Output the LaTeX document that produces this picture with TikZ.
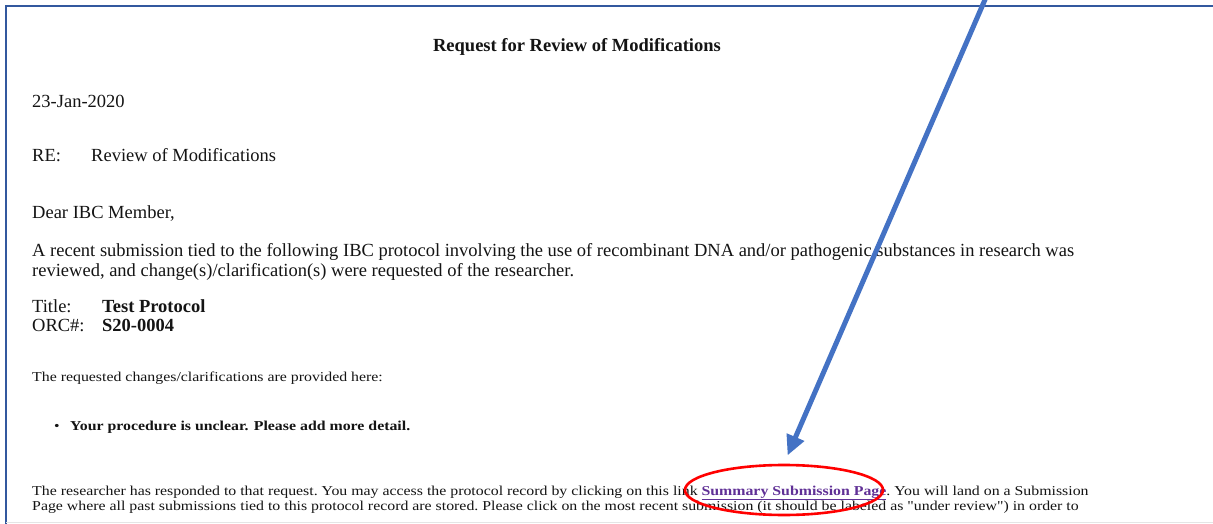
\documentclass[tikz,border=0pt]{standalone}
\usepackage{fontspec}
\setmainfont{Liberation Serif}
\newfontfamily\smallserif[FakeStretch=1.165]{Liberation Serif}
\usetikzlibrary{arrows.meta,shapes.geometric}
\definecolor{framebl}{RGB}{50,88,158}
\definecolor{arrowbl}{RGB}{68,114,196}
\definecolor{linkpu}{RGB}{96,48,150}
\definecolor{ink}{RGB}{20,20,20}
\tikzset{
  txt/.style={anchor=base west,inner sep=0pt,text=ink,font=\fontsize{18.5}{21}\selectfont},
  txtb/.style={txt,font=\bfseries\fontsize{18.5}{21}\selectfont},
  sml/.style={txt,font=\smallserif\frenchspacing\fontsize{13.6}{16}\selectfont},
  smlb/.style={txt,font=\smallserif\bfseries\fontsize{13.6}{16}\selectfont},
  ring/.style={draw=red,line width=2.6pt,ellipse,minimum width=198pt,minimum height=50pt,inner sep=0pt}
}
\begin{document}
\begin{tikzpicture}[x=1pt,y=-1pt]
\useasboundingbox(0,0)rectangle(1213,524);
\clip(0,0)rectangle(1213,524);
\fill[white](0,0)rectangle(1213,524);
% page frame
\draw[framebl,line width=2.5pt](6,524)--(6,6)--(1214,6);
\draw[gray!20,line width=1pt](6,522)--(1213,522);
% letter
\node[txtb,anchor=base](head)at(577,52){Request for Review of Modifications};
\node[txt](date)at(32,108){23-Jan-2020};
\node[txt](re)at(32,161){RE:};\node[txt](subj)at(91,161){Review of Modifications};
\node[txt](dear)at(32,218){Dear IBC Member,};
\node[txt](parA)at(32,256){A recent submission tied to the following IBC protocol involving the use of recombinant DNA and/or pathogenic substances in research was};
\node[txt](parB)at(32,276){reviewed, and change(s)/clarification(s) were requested of the researcher.};
\node[txt](ttl)at(32,312){Title:};\node[txtb](ttlv)at(102,312){Test Protocol};
\node[txt](orc)at(32,331){ORC\#:};\node[txtb](orcv)at(102,331){S20-0004};
\node[sml](req)at(32,381){The requested changes/clarifications are provided here:};
\node[sml](bul)at(54,430){\textbullet};
\node[smlb](item)at(70,430){Your procedure is unclear. Please add more detail.};
\node[sml](respA)at(32,495){The researcher has responded to that request. You may access the protocol record by clicking on this link \textcolor{linkpu}{\bfseries\underline{Summary Submission Page}}. You will land on a Submission};
\node[sml](respB)at(32,510){Page where all past submissions tied to this protocol record are stored. Please click on the most recent submission (it should be labeled as \symbol{34}under review\symbol{34}) in order to};
% callout
\node[ring](loop)at(784,490){};
\coordinate(start)at(987,-5);
\draw[arrowbl,line width=5pt,shorten >=9pt,-{Triangle[length=20pt,width=18pt]}](start)--(loop.north);
\end{tikzpicture}
\end{document}
